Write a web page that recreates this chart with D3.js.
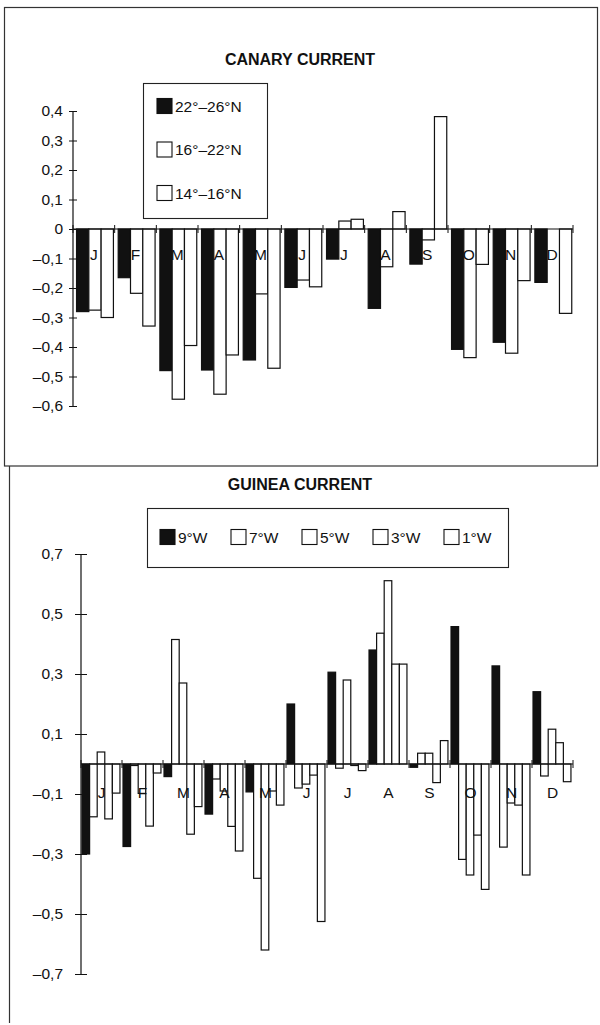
<!DOCTYPE html>
<html><head><meta charset="utf-8">
<script src="https://cdn.jsdelivr.net/npm/d3@7"></script>
<style>
body{margin:0;background:#fff}
svg{display:block}
text{font-family:"Liberation Sans",Arial,Helvetica,sans-serif;fill:#111}
</style>
</head><body>
<svg id="c" width="600" height="1025"></svg>
<script>
// ---------- DATA ----------
const months = ["J","F","M","A","M","J","J","A","S","O","N","D"];

const canaryTitle = "CANARY CURRENT";
const canarySeries = ["22°–26°N","16°–22°N","14°–16°N"];
const canary22_26 = [-0.28,-0.165,-0.48,-0.478,-0.444,-0.198,-0.102,-0.269,-0.119,-0.408,-0.384,-0.181];
const canary16_22 = [-0.275,-0.218,-0.577,-0.56,-0.22,-0.173,0.027,-0.128,-0.037,-0.436,-0.421,0.0];
const canary14_16 = [-0.30,-0.329,-0.395,-0.427,-0.472,-0.196,0.033,0.059,0.381,-0.12,-0.175,-0.286];
const canaryTicks = [0.4,0.3,0.2,0.1,0,-0.1,-0.2,-0.3,-0.4,-0.5,-0.6];

const guineaTitle = "GUINEA CURRENT";
const guineaSeries = ["9°W","7°W","5°W","3°W","1°W"];
const guinea9W = [-0.30,-0.275,-0.042,-0.167,-0.093,0.20,0.306,0.38,-0.011,0.458,0.327,0.241];
const guinea7W = [-0.176,-0.005,0.415,-0.05,-0.381,-0.08,-0.014,0.436,0.036,-0.318,-0.277,-0.04];
const guinea5W = [0.04,-0.098,0.27,-0.09,-0.62,-0.067,0.28,0.611,0.036,-0.37,-0.13,0.116];
const guinea3W = [-0.183,-0.207,-0.234,-0.208,-0.09,-0.037,-0.005,0.333,-0.062,-0.237,-0.137,0.071];
const guinea1W = [-0.097,-0.03,-0.142,-0.29,-0.137,-0.525,-0.022,0.333,0.078,-0.418,-0.37,-0.059];
const guineaTicks = [0.7,0.5,0.3,0.1,-0.1,-0.3,-0.5,-0.7];

// ---------- DRAW ----------
const svg = d3.select("#c");
const fmt = d => d === 0 ? "0" : d3.format(".1f")(d).replace(".", ",").replace("-", "\u2013").replace("\u2212","\u2013");
const fills = ["#111", "#fff", "#fff", "#fff", "#fff"];

// frames
svg.append("rect").attr("x",4.5).attr("y",7.5).attr("width",593).attr("height",458.5)
  .attr("fill","none").attr("stroke","#333").attr("stroke-width",1.2);
svg.append("line").attr("x1",9.5).attr("x2",9.5).attr("y1",466).attr("y2",1023)
  .attr("stroke","#333").attr("stroke-width",1.2);

function drawChart(o) {
  const g = svg.append("g");
  const x = d3.scaleBand().domain(d3.range(months.length)).range([o.x0, o.x1]).padding(0);
  const bw = x.bandwidth();
  const xi = d3.scaleBand().domain(d3.range(o.series.length)).range([bw*o.inner[0], bw*o.inner[1]]).padding(0);
  const y = d3.scaleLinear().domain(o.domain).range([o.yBottom, o.yTop]);

  // title
  g.append("text").attr("x",300).attr("y",o.titleY).attr("text-anchor","middle")
    .attr("font-size",16).attr("font-weight","bold").text(o.title);

  // bars
  o.series.forEach((vals, si) => {
    g.append("g").selectAll("rect").data(vals).join("rect")
      .attr("x", (d,i) => x(i) + xi(si))
      .attr("width", xi.bandwidth())
      .attr("y", d => y(Math.max(0,d)))
      .attr("height", d => Math.abs(y(d) - y(0)))
      .attr("fill", fills[si]).attr("stroke","#111").attr("stroke-width",1.2);
  });

  // zero line
  g.append("line").attr("x1",o.x0).attr("x2",o.x1).attr("y1",y(0)).attr("y2",y(0))
    .attr("stroke","#111").attr("stroke-width",1.2);
  // month boundary ticks
  g.append("g").selectAll("line").data(d3.range(months.length+1)).join("line")
    .attr("x1", i => o.x0 + i*x.step()).attr("x2", i => o.x0 + i*x.step())
    .attr("y1", y(0)-4).attr("y2", y(0)+4).attr("stroke","#111").attr("stroke-width",1);

  // month labels
  g.append("g").selectAll("text").data(months).join("text")
    .attr("x",(d,i)=> x(i)+bw/2).attr("y", y(0)+o.labelDy)
    .attr("text-anchor","middle").attr("font-size",15.5).text(d=>d);

  // y axis
  const ax = g.append("g").attr("transform",`translate(${o.x0},0)`)
    .call(d3.axisLeft(y).tickValues(o.ticks).tickFormat(fmt).tickSize(o.tick).tickPadding(o.pad));
  ax.select(".domain").attr("d", `M0,${y(o.domain[1])}V${y(o.domain[0])}`).attr("stroke","#111").attr("stroke-width",1.2);
  ax.selectAll(".tick line").attr("x1", o.tick).attr("stroke","#111");
  ax.selectAll(".tick text").attr("font-size",15.5).attr("fill","#111")
    .attr("font-family",'"Liberation Sans",Arial,sans-serif');

  // legend
  const lg = g.append("g");
  lg.append("rect").attr("x",o.leg.x).attr("y",o.leg.y).attr("width",o.leg.w).attr("height",o.leg.h)
    .attr("fill","#fff").attr("stroke","#222").attr("stroke-width",1.1);
  o.names.forEach((n, si) => {
    const [lx, ly] = o.leg.pos(si);
    lg.append("rect").attr("x",lx).attr("y",ly-7.5).attr("width",15).attr("height",15)
      .attr("fill",fills[si]).attr("stroke","#111").attr("stroke-width",1.1);
    lg.append("text").attr("x",lx+18).attr("y",ly+5.5).attr("font-size",15.5).text(n);
  });
}

drawChart({
  title: canaryTitle, titleY: 65,
  series: [canary22_26, canary16_22, canary14_16], names: canarySeries,
  x0: 73, x1: 573, inner: [0.085, 0.97],
  domain: [-0.6, 0.4], yBottom: 406, yTop: 111,
  ticks: canaryTicks, tick: 4, pad: 6, labelDy: 31,
  leg: {x:143.5, y:83.5, w:124, h:135, pos: si => [157, 106 + si*43.5]}
});

drawChart({
  title: guineaTitle, titleY: 490,
  series: [guinea9W, guinea7W, guinea5W, guinea3W, guinea1W], names: guineaSeries,
  x0: 81, x1: 573, inner: [0.025, 0.95],
  domain: [-0.7, 0.7], yBottom: 974, yTop: 554,
  ticks: guineaTicks, tick: 6, pad: 12, labelDy: 34,
  leg: {x:147.5, y:508.5, w:361, h:59, pos: si => [160 + si*71, 537]}
});
</script>
</body></html>
